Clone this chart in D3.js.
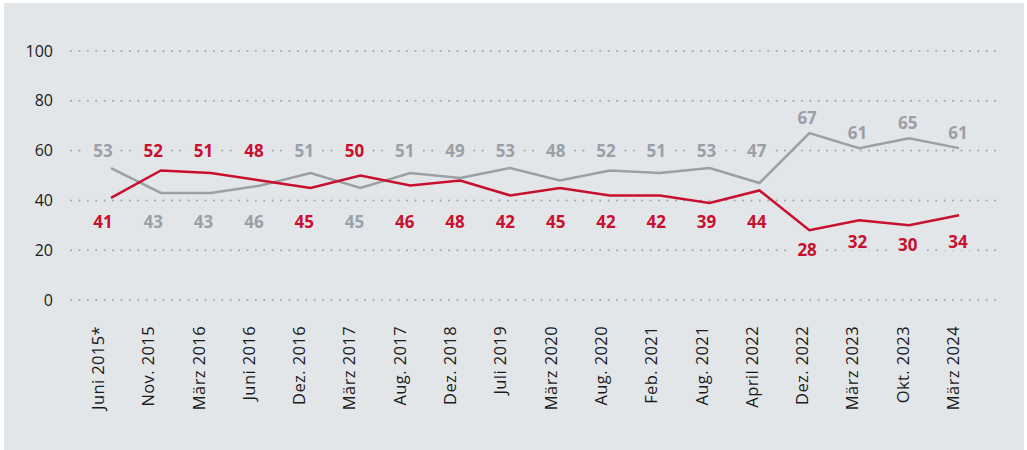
<!DOCTYPE html>
<html>
<head>
<meta charset="utf-8">
<script src="https://cdn.jsdelivr.net/npm/d3@7"></script>
<style>
  body { margin: 0; background: #fff; }
  svg text { font-family: "Open Sans", sans-serif; }
</style>
</head>
<body>
<div id="chart"></div>
<script>
// survey dates
var dates = ["Juni 2015*", "Nov. 2015", "März 2016", "Juni 2016", "Dez. 2016", "März 2017",
  "Aug. 2017", "Dez. 2018", "Juli 2019", "März 2020", "Aug. 2020", "Feb. 2021",
  "Aug. 2021", "April 2022", "Dez. 2022", "März 2023", "Okt. 2023", "März 2024"];
var greyValues = [53, 43, 43, 46, 51, 45, 51, 49, 53, 48, 52, 51, 53, 47, 67, 61, 65, 61];
var redValues = [41, 52, 51, 48, 45, 50, 46, 48, 42, 45, 42, 42, 39, 44, 28, 32, 30, 34];
var yTicks = [0, 20, 40, 60, 80, 100];

var width = 1027, height = 450;
var red = "#c8102e", grey = "#9aa0a6";

var svg = d3.select("#chart").append("svg")
    .attr("width", width)
    .attr("height", height);

svg.append("rect")
    .attr("x", 4).attr("y", 3)
    .attr("width", 1020).attr("height", 447)
    .attr("fill", "#e3e6e9");

var y = d3.scaleLinear().domain([0, 100]).range([300, 51]);
// labels sit a bit left of the line points on the left side
var xLabel = d3.scalePoint().domain(dates).range([103, 958]);
var xLine = d3.scalePoint().domain(dates).range([111, 959]);

// dotted gridlines
svg.append("g").selectAll("line")
    .data(yTicks)
    .enter().append("line")
    .attr("x1", 71).attr("x2", 1000)
    .attr("y1", function(d) { return y(d); })
    .attr("y2", function(d) { return y(d); })
    .attr("stroke", "#a3a7ab")
    .attr("stroke-width", 2)
    .attr("stroke-linecap", "round")
    .attr("stroke-dasharray", "0.1,8.3");

// y axis labels
var yAxis = d3.axisLeft(y).tickValues(yTicks).tickSize(0).tickPadding(0);
svg.append("g")
    .attr("transform", "translate(53,0)")
    .call(yAxis)
    .call(function(g) { g.select(".domain").remove(); })
    .selectAll("text")
    .attr("font-size", 16)
    .attr("fill", "#1a1a1a")
    .style("font-family", "'Open Sans', sans-serif");

// x labels rotated
svg.append("g").selectAll("text")
    .data(dates)
    .enter().append("text")
    .attr("transform", function(d) { return "translate(" + (xLabel(d) + 1) + ",326) rotate(-90)"; })
    .attr("text-anchor", "end")
    .attr("font-size", 16.5)
    .attr("letter-spacing", 0.4)
    .attr("fill", "#1a1a1a")
    .text(function(d) { return d; });

var line = d3.line()
    .x(function(d, i) { return xLine(dates[i]); })
    .y(function(d) { return y(d); });

svg.append("path").datum(greyValues)
    .attr("d", line).attr("fill", "none")
    .attr("stroke", grey).attr("stroke-width", 2.5);
svg.append("path").datum(redValues)
    .attr("d", line).attr("fill", "none")
    .attr("stroke", red).attr("stroke-width", 2.5);

// value labels: higher value goes on the upper row, lower value on the lower row
var labels = [];
dates.forEach(function(d, i) {
    var g = greyValues[i], r = redValues[i];
    var hi = Math.max(g, r), lo = Math.min(g, r);
    labels.push({ i: i, v: hi, c: g >= r ? grey : red, pos: hi > 60 ? hi + 6 : 60 });
    labels.push({ i: i, v: lo, c: g >= r ? red : grey, pos: lo < 35 ? Math.min(23.5, lo - 8) : 31.5 });
});

var lab = svg.append("g").selectAll("g")
    .data(labels)
    .enter().append("g")
    .attr("transform", function(d) { return "translate(" + xLabel(dates[d.i]) + "," + y(d.pos) + ")"; });

lab.append("rect")
    .attr("x", -16).attr("y", -9)
    .attr("width", 32).attr("height", 18)
    .attr("fill", "#e3e6e9");

lab.append("text")
    .attr("text-anchor", "middle")
    .attr("dy", "0.36em")
    .attr("font-size", 17)
    .attr("font-weight", 700)
    .attr("fill", function(d) { return d.c; })
    .text(function(d) { return d.v; });
</script>
</body>
</html>
